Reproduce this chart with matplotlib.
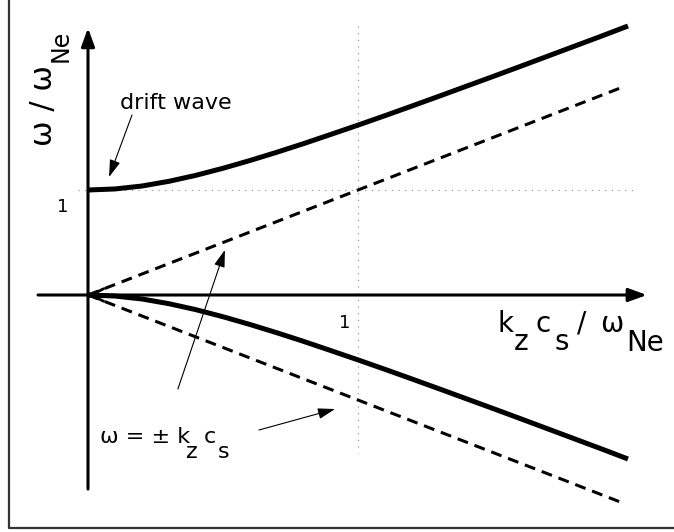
import matplotlib
matplotlib.use('Agg')
import matplotlib.pyplot as plt

# normalised parallel wavenumber k_z c_s / omega_Ne
k_vals = [0.0, 0.1, 0.2, 0.3, 0.4, 0.5, 0.6, 0.7, 0.8, 0.9, 1.0,
          1.1, 1.2, 1.3, 1.4, 1.5, 1.6, 1.7, 1.8, 1.9, 2.0]
# upper (drift wave) and lower branch of omega / omega_Ne
drift_branch = [1.000, 1.010, 1.038, 1.083, 1.140, 1.207, 1.281, 1.360, 1.443, 1.530, 1.618,
                1.708, 1.800, 1.893, 1.987, 2.081, 2.176, 2.272, 2.368, 2.464, 2.562]
lower_branch = [0.000, -0.010, -0.038, -0.083, -0.140, -0.207, -0.281, -0.360, -0.443, -0.530, -0.618,
                -0.708, -0.800, -0.893, -0.987, -1.081, -1.176, -1.272, -1.368, -1.464, -1.562]
# ion sound line omega = +/- k_z c_s
sound_k = [0.0, 1.97]
sound_w = [0.0, 1.97]

fig = plt.figure(figsize=(6.74, 5.32), dpi=100)
ax = fig.add_axes([0, 0, 1, 1])
ax.set_xlim(-88 / 270, 586 / 270)
ax.set_ylim(-237 / 105, 295 / 105)
ax.axis('off')

# frame (left and bottom only)
ax.plot([-0.2926, -0.2926, 2.2], [2.9, -2.219, -2.219], color='#333333', lw=1.6,
        solid_capstyle='butt', clip_on=False)

# guide lines at 1
ax.plot([1, 1], [2.562, -1.505], color='#888888', lw=0.8, ls=(0, (1, 5)))
ax.plot([-0.037, 2.026], [1, 1], color='#888888', lw=0.8, ls=(0, (1, 5)))

# axes with arrow heads
head = dict(arrowstyle='-|>,head_length=0.55,head_width=0.2', lw=2.2, color='k',
            shrinkA=0, shrinkB=0, mutation_scale=20)
ax.annotate('', xy=(0, 2.543), xytext=(0, -1.848), arrowprops=head)
ax.annotate('', xy=(2.07, 0), xytext=(-0.185, 0), arrowprops=head)

# branches
ax.plot(k_vals, drift_branch, color='k', lw=3.6, solid_capstyle='butt')
ax.plot(k_vals, lower_branch, color='k', lw=3.6, solid_capstyle='butt')
ax.plot(sound_k, sound_w, color='k', lw=2.2, dashes=(3.6, 2.3))
ax.plot(sound_k, [-w for w in sound_w], color='k', lw=2.2, dashes=(3.6, 2.3))
ax.annotate('', xy=(0, 0), xytext=(0.06, 0),
            arrowprops=dict(arrowstyle='->,head_length=0.6,head_width=0.3', lw=2.0,
                            color='k', shrinkA=0, shrinkB=0, mutation_scale=15))

# tick labels
ax.text(-0.093, 0.838, '1', fontsize=13, ha='center', va='center')
ax.text(0.952, -0.267, '1', fontsize=13, ha='center', va='center')

# annotations
thin = dict(arrowstyle='-|>,head_length=0.7,head_width=0.22', lw=0.8, color='k',
            shrinkA=0, shrinkB=0, mutation_scale=15)
ax.text(0.1185, 1.771, 'drift wave', fontsize=16, ha='left', va='baseline')
ax.annotate('', xy=(0.078, 1.124), xytext=(0.163, 1.714), arrowprops=thin)
ax.annotate('', xy=(0.507, 0.429), xytext=(0.333, -0.895), arrowprops=thin)
ax.annotate('', xy=(0.915, -1.086), xytext=(0.633, -1.286), arrowprops=thin)


def pos(px, py):
    return (px - 88) / 270, (295 - py) / 105


# omega = +- k_z c_s
for s, (px, py) in [('\u03c9 = \u00b1 k', (100, 443)), ('z', (186, 458)),
                    ('c', (204, 443)), ('s', (218, 458))]:
    ax.text(*pos(px, py), s, fontsize=16, ha='left', va='baseline')

# x label
for s, (px, py) in [('k', (498, 332)), ('z', (514, 350)), ('c', (536, 332)),
                    ('s', (555, 350)), ('/', (577, 332)), ('\u03c9', (600, 332)),
                    ('Ne', (626, 351))]:
    ax.text(*pos(px, py), s, fontsize=20, ha='left', va='baseline')

# y label
ax.text(*pos(52, 146), '\u03c9 / \u03c9', fontsize=22, rotation=90,
        rotation_mode='anchor', ha='left', va='baseline')
ax.text(*pos(68, 62), 'Ne', fontsize=17, rotation=90,
        rotation_mode='anchor', ha='left', va='baseline')

fig.savefig('out.png', dpi=100)
